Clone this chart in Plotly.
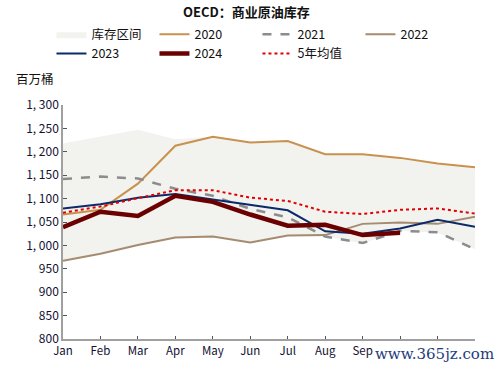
import plotly.graph_objects as go

months = ["Jan", "Feb", "Mar", "Apr", "May", "Jun", "Jul", "Aug", "Sep", "Oct", "Nov", "Dec"]
month_labels = ["Jan", "Feb", "Mar", "Apr", "May", "Jun", "Jul", "Aug", "Sep", "", "", ""]
band_upper = [1218, 1232, 1247, 1227, 1232, 1220, 1223, 1195, 1195, 1187, 1175, 1167]
band_lower = [967, 982, 1001, 1017, 1019, 1006, 1020, 1019, 1004, 1031, 1027, 992]
y2020 = [1066, 1076, 1132, 1213, 1232, 1220, 1223, 1195, 1195, 1187, 1175, 1167]
y2021 = [1142, 1147, 1143, 1121, 1106, 1078, 1060, 1019, 1005, 1031, 1028, 992]
y2022 = [967, 982, 1001, 1017, 1019, 1006, 1021, 1022, 1046, 1049, 1046, 1061]
y2023 = [1079, 1088, 1102, 1110, 1098, 1086, 1075, 1030, 1025, 1036, 1055, 1040]
y2024 = [1039, 1072, 1063, 1106, 1093, 1066, 1042, 1044, 1022, 1027]
avg5 = [1070, 1083, 1101, 1118, 1118, 1102, 1095, 1072, 1067, 1076, 1079, 1068]
ytick_vals = [800, 850, 900, 950, 1000, 1050, 1100, 1150, 1200, 1250, 1300]
ytick_text = ["800", "850", "900", "950", "1, 000", "1, 050", "1, 100", "1, 150", "1, 200", "1, 250", "1, 300"]

FONT = "Noto Sans CJK SC"
fig = go.Figure()
fig.add_trace(go.Scatter(x=months, y=band_lower, mode="lines", line=dict(width=0, color="#F2F2EE"),
                         showlegend=False, hoverinfo="skip"))
fig.add_trace(go.Scatter(x=months, y=band_upper, mode="lines", line=dict(width=0, color="#F2F2EE"),
                         fill="tonexty", fillcolor="#F2F2EE", name="库存区间"))
fig.add_trace(go.Scatter(x=months, y=y2020, mode="lines", line=dict(color="#C8924E", width=2), name="2020"))
fig.add_trace(go.Scatter(x=months, y=y2021, mode="lines", line=dict(color="#8C8C8C", width=2.5, dash="dash"), name="2021"))
fig.add_trace(go.Scatter(x=months, y=y2022, mode="lines", line=dict(color="#A58B70", width=2), name="2022"))
fig.add_trace(go.Scatter(x=months, y=y2023, mode="lines", line=dict(color="#0B2A6B", width=2), name="2023"))
fig.add_trace(go.Scatter(x=months[:len(y2024)], y=y2024, mode="lines", line=dict(color="#6B0000", width=4.5), name="2024"))
fig.add_trace(go.Scatter(x=months, y=avg5, mode="lines", line=dict(color="#E00000", width=2, dash="dot"), name="5年均值"))

fig.update_layout(
    width=503, height=370,
    margin=dict(l=63, r=28, t=105, b=31, autoexpand=False),
    paper_bgcolor="white", plot_bgcolor="white",
    font=dict(family=FONT, size=12, color="#111133"),
    title=dict(text="<b>OECD：商业原油库存</b>", x=0.49, xanchor="center", y=0.9676, yanchor="middle",
               font=dict(family=FONT, size=13, color="#111111")),
    legend=dict(orientation="h", x=-0.028, xanchor="left", y=1.365, yanchor="top",
                entrywidth=58, entrywidthmode="pixels", traceorder="normal",
                font=dict(family=FONT, size=12.5, color="#111111"), bgcolor="rgba(0,0,0,0)",
                tracegroupgap=0, itemwidth=30),
    showlegend=True,
)
fig.update_xaxes(type="category", range=[0, 11], showline=True, linecolor="#A0A0A0", linewidth=1.5,
                 tickmode="array", tickvals=months, ticktext=month_labels,
                 ticks="inside", ticklen=3, tickcolor="#555555", showgrid=False, zeroline=False,
                 tickfont=dict(family=FONT, size=11.5, color="#111133"))
fig.update_yaxes(range=[800, 1300], tickvals=ytick_vals, ticktext=ytick_text, showline=True,
                 linecolor="#A0A0A0", linewidth=1.5, ticks="inside", ticklen=4, tickcolor="#555555",
                 showgrid=False, zeroline=False, tickfont=dict(family=FONT, size=12, color="#111133"))
fig.add_annotation(text="百万桶", xref="paper", yref="paper", x=-0.119, y=1.115, xanchor="left",
                   yanchor="middle", showarrow=False, font=dict(family=FONT, size=12.5, color="#111111"))
fig.add_annotation(text="www.365jz.com", xref="paper", yref="paper", x=1.05, y=-0.065, xanchor="right",
                   yanchor="middle", showarrow=False,
                   font=dict(family="DejaVu Serif", size=15, color="#1F3C7A"))
fig.write_html("out.html", config={"displayModeBar": False},
               post_script="document.body.style.margin='0';")
